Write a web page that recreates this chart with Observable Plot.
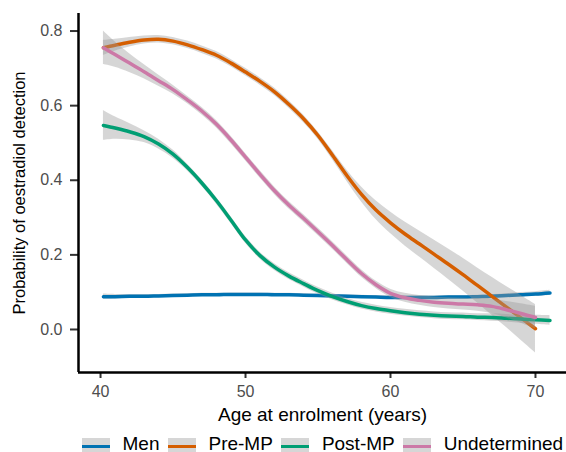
<!DOCTYPE html>
<html>
<head>
<meta charset="utf-8">
<script src="https://cdn.jsdelivr.net/npm/d3@7"></script>
<script src="https://cdn.jsdelivr.net/npm/@observablehq/plot@0.6"></script>
<style>
  body { margin: 0; background: #fff; font-family: "Liberation Sans", Arial, sans-serif; }
  #wrap { position: relative; width: 566px; height: 452px; overflow: hidden; background: #fff; }
  #legend { position: absolute; left: 0; top: 425px; width: 566px; height: 27px; display: flex; align-items: flex-start; padding-left: 82px; box-sizing: border-box; white-space: nowrap; }
  .key { position: relative; width: 28px; height: 18px; margin-top: 13px; margin-right: 12.5px; background: #d6d6d6; flex: none; }
  .key span { position: absolute; left: 0; right: 0; top: 6.5px; height: 3.5px; }
  .lab { font-size: 19px; line-height: 19px; margin-top: 8.5px; margin-right: 8.5px; color: #000; flex: none; }
</style>
</head>
<body>
<div id="wrap">
  <div id="chart"></div>
  <div id="legend"></div>
</div>
<script>
// ---- data ----
const seriesNames  = ["Men", "Pre-MP", "Post-MP", "Undetermined"];
const seriesColors = ["#0072B2", "#D55E00", "#009E73", "#CC79A7"];

const ages = [40.2, 41, 42, 43, 44, 45, 46, 47, 48, 49, 50, 51, 52, 53, 54, 55,
              56, 57, 58, 59, 60, 61, 62, 63, 64, 65, 66, 67, 68, 69, 70, 71];

const menEst = [0.088, 0.088, 0.089, 0.089, 0.090, 0.091, 0.092, 0.093, 0.093, 0.094, 0.094, 0.094,
                0.093, 0.093, 0.092, 0.091, 0.090, 0.089, 0.088, 0.087, 0.086, 0.086, 0.086, 0.086,
                0.087, 0.087, 0.088, 0.089, 0.091, 0.093, 0.095, 0.098];
const menCi  = [0.007, 0.006, 0.005, 0.005, 0.004, 0.004, 0.004, 0.004, 0.004, 0.004, 0.004, 0.004,
                0.004, 0.004, 0.004, 0.004, 0.004, 0.004, 0.004, 0.004, 0.004, 0.004, 0.004, 0.004,
                0.004, 0.004, 0.004, 0.005, 0.005, 0.006, 0.006, 0.007];

const preEst = [0.755, 0.762, 0.770, 0.776, 0.778, 0.773, 0.763, 0.750, 0.735, 0.714, 0.690, 0.665,
                0.637, 0.603, 0.565, 0.520, 0.467, 0.412, 0.362, 0.320, 0.286, 0.256, 0.229, 0.202,
                0.175, 0.147, 0.118, 0.089, 0.060, 0.031, 0.002, null];
const preCi  = [0.020, 0.016, 0.013, 0.011, 0.010, 0.010, 0.010, 0.010, 0.010, 0.010, 0.010, 0.010,
                0.010, 0.010, 0.010, 0.010, 0.012, 0.015, 0.020, 0.025, 0.029, 0.032, 0.035, 0.038,
                0.041, 0.044, 0.047, 0.051, 0.055, 0.060, 0.065, null];

const postEst = [0.547, 0.540, 0.530, 0.517, 0.497, 0.470, 0.434, 0.392, 0.345, 0.293, 0.240, 0.198,
                 0.167, 0.143, 0.123, 0.104, 0.088, 0.075, 0.064, 0.056, 0.050, 0.045, 0.041, 0.038,
                 0.036, 0.035, 0.033, 0.032, 0.030, 0.028, 0.026, 0.024];
const postCi  = [0.040, 0.030, 0.022, 0.016, 0.013, 0.011, 0.009, 0.009, 0.009, 0.009, 0.009, 0.009,
                 0.009, 0.009, 0.009, 0.009, 0.009, 0.009, 0.009, 0.009, 0.009, 0.009, 0.009, 0.009,
                 0.009, 0.009, 0.009, 0.010, 0.010, 0.011, 0.012, 0.013];

const undEst = [0.755, 0.737, 0.714, 0.691, 0.667, 0.643, 0.615, 0.585, 0.550, 0.508, 0.462, 0.416,
                0.372, 0.333, 0.298, 0.262, 0.225, 0.187, 0.150, 0.120, 0.097, 0.085, 0.078, 0.073,
                0.070, 0.068, 0.066, 0.062, 0.053, 0.043, 0.032, null];
const undCi  = [0.045, 0.034, 0.025, 0.019, 0.015, 0.012, 0.010, 0.010, 0.010, 0.010, 0.010, 0.010,
                0.010, 0.010, 0.010, 0.010, 0.010, 0.010, 0.010, 0.010, 0.011, 0.012, 0.013, 0.014,
                0.015, 0.016, 0.017, 0.019, 0.022, 0.026, 0.030, null];

const xTicks = [40, 50, 60, 70];
const yTicks = [0.0, 0.2, 0.4, 0.6, 0.8];
const xTitle = "Age at enrolment (years)";
const yTitle = "Probability of oestradiol detection";
const xDomain = [38.48, 72.14];
const yDomain = [-0.1153, 0.847];

// ---- build table ----
const estimates = [menEst, preEst, postEst, undEst];
const halfWidths = [menCi, preCi, postCi, undCi];
const rows = [];
seriesNames.forEach((name, k) => {
  ages.forEach((a, i) => {
    const e = estimates[k][i];
    if (e == null) return;
    const c = halfWidths[k][i];
    rows.push({series: name, age: a, est: e, lo: e - c, hi: e + c});
  });
});

const marks = [];
seriesNames.forEach(name => {
  const d = rows.filter(r => r.series === name);
  marks.push(Plot.areaY(d, {x: "age", y1: "lo", y2: "hi", fill: "#999999", fillOpacity: 0.4, curve: "catmull-rom"}));
  marks.push(Plot.line(d, {x: "age", y: "est", stroke: "series", strokeWidth: 3.5, curve: "catmull-rom"}));
});

const chart = Plot.plot({
  width: 566,
  height: 425,
  marginLeft: 78,
  marginRight: 0,
  marginTop: 13,
  marginBottom: 53,
  x: {domain: xDomain},
  y: {domain: yDomain},
  color: {domain: seriesNames, range: seriesColors},
  style: {fontFamily: "'Liberation Sans', Arial, sans-serif", fontSize: "16px", background: "white", overflow: "visible"},
  marks: [
    ...marks,
    Plot.axisX({ticks: xTicks, tickSize: 6, tickPadding: 7, label: null, stroke: "#333", fill: "#4d4d4d", strokeWidth: 2}),
    Plot.axisY({ticks: yTicks, tickFormat: d3.format(".1f"), tickSize: 8, tickPadding: 8, label: null, stroke: "#333", fill: "#4d4d4d", strokeWidth: 2}),
    Plot.ruleX([xDomain[0]], {stroke: "black", strokeWidth: 2.5}),
    Plot.ruleY([yDomain[0]], {stroke: "black", strokeWidth: 2.5}),
    Plot.text([xTitle], {frameAnchor: "bottom", lineAnchor: "top", dy: 35, fontSize: 19, fill: "black"}),
    Plot.text([yTitle], {frameAnchor: "left", rotate: -90, textAnchor: "middle", lineAnchor: "top", dx: -65, fontSize: 16.5, fill: "black"})
  ]
});
document.getElementById("chart").appendChild(chart);

// ---- legend ----
const legend = d3.select("#legend");
seriesNames.forEach((name, k) => {
  const key = legend.append("div").attr("class", "key");
  key.append("span").style("background", seriesColors[k]);
  legend.append("div").attr("class", "lab").text(name);
});
</script>
</body>
</html>
